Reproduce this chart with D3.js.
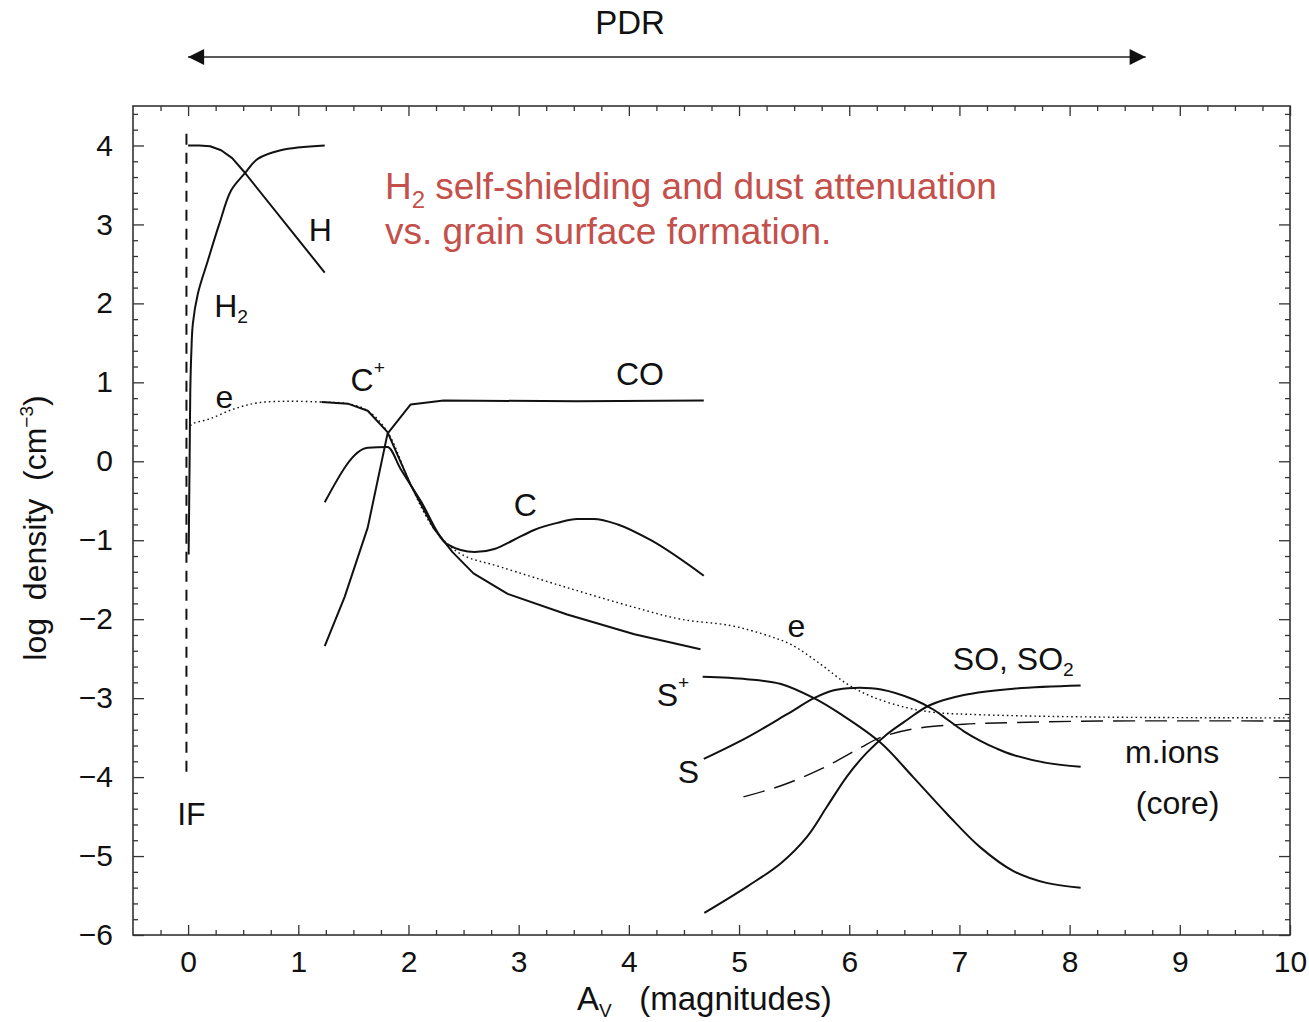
<!DOCTYPE html>
<html lang="en">
<head>
	<meta charset="UTF-8">
	<title>PDR abundances</title>
	<style>
		body { margin: 0; background: #fff; }
		text { font-family: "Liberation Sans", Arial, Helvetica, sans-serif; fill: #111; }
	</style>
</head>
<body>
	<svg id="chart" width="1309" height="1022"></svg>
	<script src="https://d3js.org/d3.v7.min.js"></script>
	<script>

	// curves: A_V (mag) vs log density
	var hX   = [0, 0.1, 0.2, 0.3, 0.4, 0.5, 1.24];
	var hY   = [4.0, 4.0, 3.99, 3.94, 3.84, 3.68, 2.39];

	var h2X  = [0.005, 0.01, 0.015, 0.02, 0.03, 0.043, 0.088, 0.179, 0.284, 0.39, 0.51, 0.632, 0.84, 1.24];
	var h2Y  = [-1.18, -0.5, 0.2, 0.9, 1.4, 1.74, 2.12, 2.54, 3.01, 3.43, 3.64, 3.83, 3.94, 4.0];

	var eX   = [0.02, 0.05, 0.2, 0.41, 0.63, 0.9, 1.21, 1.45, 1.63, 1.81, 2.02, 2.23, 2.47, 2.84, 3.44, 4.05, 4.47, 4.92, 5.22, 5.47, 5.74, 5.98, 6.22, 6.52, 6.77, 7.19, 8.28, 10.0];
	var eY   = [0.45, 0.48, 0.54, 0.66, 0.74, 0.76, 0.75, 0.73, 0.64, 0.37, -0.3, -0.85, -1.17, -1.34, -1.6, -1.85, -2.0, -2.08, -2.19, -2.32, -2.57, -2.82, -2.99, -3.12, -3.18, -3.21, -3.24, -3.25];

	var cpX  = [1.21, 1.45, 1.63, 1.81, 2.02, 2.23, 2.4, 2.59, 2.9, 3.44, 4.05, 4.65];
	var cpY  = [0.75, 0.73, 0.64, 0.37, -0.3, -0.85, -1.15, -1.42, -1.68, -1.94, -2.19, -2.38];

	var coX  = [1.24, 1.42, 1.63, 1.81, 2.02, 2.32, 3.53, 4.68];
	var coY  = [-2.34, -1.72, -0.84, 0.35, 0.72, 0.77, 0.76, 0.77];

	var cX   = [1.24, 1.63, 1.81, 1.93, 2.11, 2.35, 2.6, 2.78, 2.95, 3.14, 3.35, 3.53, 3.68, 3.9, 4.2, 4.68];
	var cY   = [-0.52, 0.17, 0.18, -0.1, -0.5, -1.05, -1.15, -1.11, -1.0, -0.87, -0.78, -0.73, -0.73, -0.8, -1.0, -1.45];

	var spX  = [4.67, 5.07, 5.38, 5.68, 5.92, 6.28, 6.58, 6.89, 7.19, 7.49, 7.79, 8.1];
	var spY  = [-2.73, -2.76, -2.82, -3.0, -3.2, -3.56, -4.0, -4.47, -4.89, -5.19, -5.34, -5.4];

	var sX   = [4.68, 5.07, 5.44, 5.68, 5.86, 6.04, 6.29, 6.59, 6.77, 6.89, 7.04, 7.19, 7.34, 7.49, 7.79, 8.1];
	var sY   = [-3.77, -3.5, -3.2, -3.0, -2.9, -2.87, -2.89, -3.02, -3.15, -3.27, -3.42, -3.54, -3.64, -3.72, -3.82, -3.87];

	var soX  = [4.685, 5.08, 5.38, 5.62, 5.80, 5.98, 6.16, 6.34, 6.52, 6.73, 7.04, 7.49, 8.1];
	var soY  = [-5.72, -5.38, -5.09, -4.75, -4.37, -3.99, -3.69, -3.46, -3.28, -3.09, -2.96, -2.88, -2.84];

	var ionX = [5.04, 5.38, 5.74, 6.1, 6.28, 6.58, 7.04, 7.49, 8.28, 10.0];
	var ionY = [-4.25, -4.11, -3.9, -3.63, -3.5, -3.39, -3.33, -3.31, -3.29, -3.29];

	var ifX  = [-0.015, -0.015];
	var ifY  = [4.15, -4.0];

	var xTicks = [0, 1, 2, 3, 4, 5, 6, 7, 8, 9, 10];
	var yTicks = [4, 3, 2, 1, 0, -1, -2, -3, -4, -5, -6];

	var svg = d3.select("#chart");

	var x = d3.scaleLinear().domain([-0.5, 10]).range([133, 1290]),
		y = d3.scaleLinear().domain([-6, 4.5]).range([935, 106]);

	function pts(xs, ys) {
		return xs.map(function (d, i) { return [d, ys[i]]; });
	}

	var straight = d3.line().x(function (d) { return x(d[0]); }).y(function (d) { return y(d[1]); });
	var smooth = d3.line().curve(d3.curveCatmullRom.alpha(0.5))
		.x(function (d) { return x(d[0]); }).y(function (d) { return y(d[1]); });
	var mono = d3.line().curve(d3.curveMonotoneX)
		.x(function (d) { return x(d[0]); }).y(function (d) { return y(d[1]); });

	// frame + inward ticks on all four sides
	var minorX = d3.range(-0.25, 10.001, 0.25).filter(function (d) { return Math.abs(d - Math.round(d)) > 0.01; });
	var minorY = d3.range(-6, 4.5, 0.2).filter(function (d) { return Math.abs(d - Math.round(d)) > 0.01; });

	function noDomain(g) { g.select(".domain").remove(); }

	svg.append("g").attr("transform", "translate(0," + y(-6) + ")")
		.call(d3.axisBottom(x).tickValues(xTicks).tickSize(-10).tickFormat(d3.format("d")).tickPadding(16))
		.call(noDomain);
	svg.append("g").attr("transform", "translate(0," + y(-6) + ")")
		.call(d3.axisBottom(x).tickValues(minorX).tickSize(-5).tickFormat(""))
		.call(noDomain);
	svg.append("g").attr("transform", "translate(0," + y(4.5) + ")")
		.call(d3.axisTop(x).tickValues(xTicks).tickSize(-10).tickFormat(""))
		.call(noDomain);
	svg.append("g").attr("transform", "translate(0," + y(4.5) + ")")
		.call(d3.axisTop(x).tickValues(minorX).tickSize(-5).tickFormat(""))
		.call(noDomain);

	svg.append("g").attr("transform", "translate(" + x(-0.5) + ",0)")
		.call(d3.axisLeft(y).tickValues(yTicks).tickSize(-11).tickFormat(d3.format("d")).tickPadding(20))
		.call(noDomain);
	svg.append("g").attr("transform", "translate(" + x(-0.5) + ",0)")
		.call(d3.axisLeft(y).tickValues(minorY).tickSize(-5).tickFormat(""))
		.call(noDomain);
	svg.append("g").attr("transform", "translate(" + x(10) + ",0)")
		.call(d3.axisRight(y).tickValues(yTicks).tickSize(-11).tickFormat(""))
		.call(noDomain);
	svg.append("g").attr("transform", "translate(" + x(10) + ",0)")
		.call(d3.axisRight(y).tickValues(minorY).tickSize(-5).tickFormat(""))
		.call(noDomain);

	svg.selectAll(".tick line").attr("stroke", "#333").attr("stroke-width", 1.3);
	svg.selectAll(".tick text").attr("font-size", 30).attr("fill", "#111")
		.attr("font-family", "Liberation Sans, Arial, sans-serif");

	svg.append("rect")
		.attr("x", x(-0.5)).attr("y", y(4.5))
		.attr("width", x(10) - x(-0.5)).attr("height", y(-6) - y(4.5))
		.attr("fill", "none").attr("stroke", "#333").attr("stroke-width", 1.6);

	// curves
	function curve(xs, ys, gen, dash, w) {
		svg.append("path")
			.attr("d", gen(pts(xs, ys)))
			.attr("fill", "none")
			.attr("stroke", "#111")
			.attr("stroke-width", w || 2)
			.attr("stroke-dasharray", dash || null)
			.attr("stroke-linejoin", "round");
	}

	curve(ifX, ifY, straight, "11,8", 2);
	curve(hX, hY, straight);
	curve(h2X, h2Y, smooth);
	curve(eX, eY, smooth, "1.6,3", 1.4);
	curve(cpX, cpY, straight);
	curve(coX, coY, straight);
	curve(cX, cY, mono);
	curve(spX, spY, smooth);
	curve(sX, sY, smooth);
	curve(soX, soY, smooth);
	curve(ionX, ionY, smooth, "22,10", 1.4);

	// curve labels
	var labelSize = 32;
	function label(ax, ay, parts, anchor) {
		var t = svg.append("text")
			.attr("x", x(ax)).attr("y", y(ay))
			.attr("font-size", labelSize)
			.attr("text-anchor", anchor || "middle")
			.attr("dominant-baseline", "central");
		parts.forEach(function (p) {
			var s = t.append("tspan").text(p[0]);
			if (p[1] === "sub") s.attr("font-size", labelSize * 0.6).attr("dy", 10);
			if (p[1] === "sup") s.attr("font-size", labelSize * 0.6).attr("dy", -13);
		});
		return t;
	}

	label(1.20, 2.93, [["H"]]);
	label(0.39, 1.97, [["H"], ["2", "sub"]]);
	label(0.33, 0.82, [["e"]]);
	label(1.63, 1.03, [["C"], ["+", "sup"]]);
	label(4.10, 1.10, [["CO"]]);
	label(3.06, -0.56, [["C"]]);
	label(5.52, -2.09, [["e"]]);
	label(4.40, -2.96, [["S"], ["+", "sup"]]);
	label(4.54, -3.94, [["S"]]);
	label(6.94, -2.51, [["SO, SO"], ["2", "sub"]], "start");
	label(8.93, -3.68, [["m.ions"]]);
	label(8.98, -4.33, [["(core)"]]);
	label(0.03, -4.47, [["IF"]]);

	// axis titles
	var xt = svg.append("text").attr("x", 577).attr("y", 1010).attr("font-size", 33);
	xt.append("tspan").text("A");
	xt.append("tspan").text("V").attr("font-size", 19).attr("dy", 7);
	xt.append("tspan").text("\u00a0\u00a0\u00a0(magnitudes)").attr("font-size", 33).attr("dy", -7);

	var yt = svg.append("text")
		.attr("transform", "translate(46,528) rotate(-90)")
		.attr("text-anchor", "middle")
		.attr("font-size", 32);
	yt.append("tspan").text("log\u00a0\u00a0density\u00a0\u00a0(cm");
	yt.append("tspan").text("\u22123").attr("font-size", 19).attr("dy", -13);
	yt.append("tspan").text(")").attr("dy", 13);

	// PDR arrow above the frame
	svg.append("defs").selectAll("marker")
		.data(["head"]).enter().append("marker")
		.attr("id", "head").attr("viewBox", "0 0 10 10")
		.attr("refX", 10).attr("refY", 5)
		.attr("markerWidth", 18).attr("markerHeight", 16)
		.attr("markerUnits", "userSpaceOnUse")
		.attr("orient", "auto-start-reverse")
		.append("path").attr("d", "M0,0 L10,5 L0,10 z").attr("fill", "#111");

	svg.append("line")
		.attr("x1", x(0)).attr("x2", x(8.69))
		.attr("y1", 57).attr("y2", 57)
		.attr("stroke", "#222").attr("stroke-width", 1.6)
		.attr("marker-start", "url(#head)").attr("marker-end", "url(#head)");

	svg.append("text").attr("x", 630).attr("y", 34)
		.attr("text-anchor", "middle").attr("font-size", 33).text("PDR");

	// red annotation
	var red = "#c4504c";
	var n1 = svg.append("text").attr("x", 385).attr("y", 199).attr("font-size", 37).style("fill", red);
	n1.append("tspan").text("H").style("fill", red);
	n1.append("tspan").text("2").attr("font-size", 24).attr("dy", 9).style("fill", red);
	n1.append("tspan").text(" self-shielding and dust attenuation").attr("dy", -9).style("fill", red);
	svg.append("text").attr("x", 385).attr("y", 244).attr("font-size", 37).style("fill", red)
		.text("vs. grain surface formation.");

	</script>
</body>
</html>
